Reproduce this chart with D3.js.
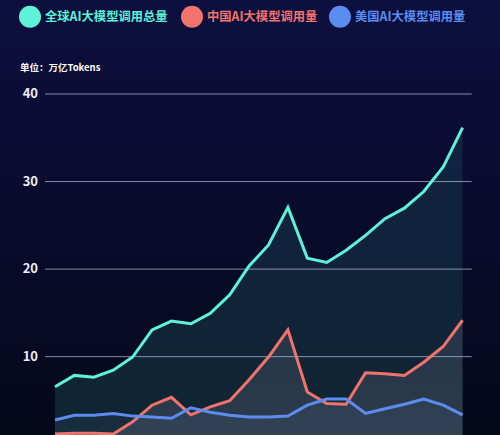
<!DOCTYPE html>
<html>
<head>
<meta charset="utf-8">
<script src="https://cdn.jsdelivr.net/npm/d3@7"></script>
<style>
  body { margin: 0; background: #070a24; }
  svg { display: block; font-family: "Noto Sans CJK SC", "Noto Sans", sans-serif; }
</style>
</head>
<body>
<div id="chart"></div>
<script>
var svgWidth = 500;
var svgHeight = 435;

// data (22 periods, unit: 万亿 Tokens)
var periods = d3.range(1, 23);
var totalUsage = [6.5, 7.8, 7.6, 8.4, 9.9, 13.0, 14.0, 13.7, 14.9, 17.0, 20.3, 22.7, 27.0, 21.2, 20.7, 22.1, 23.8, 25.7, 26.9, 28.8, 31.6, 36.1];
var chinaUsage = [1.1, 1.2, 1.2, 1.1, 2.5, 4.4, 5.3, 3.3, 4.2, 4.9, 7.3, 9.9, 13.0, 5.9, 4.6, 4.5, 8.1, 8.0, 7.8, 9.3, 11.1, 14.1];
var usUsage = [2.7, 3.25, 3.25, 3.45, 3.15, 3.05, 2.9, 4.1, 3.6, 3.25, 3.05, 3.05, 3.15, 4.4, 5.1, 5.1, 3.45, 4.0, 4.5, 5.1, 4.4, 3.3];
var seriesNames = ["全球AI大模型调用总量", "中国AI大模型调用量", "美国AI大模型调用量"];
var yTicks = [10, 20, 30, 40];

var colors = ["#5ef2d9", "#f2736b", "#5b8df0"];
var areaColors = ["#5ef2d9", "#d8c8e8", "#7f9ee8"];

var margin = { left: 45, right: 28 };

var svg = d3.select("#chart")
  .append("svg")
  .attr("width", svgWidth)
  .attr("height", svgHeight);

var defs = svg.append("defs");

// background
var bg = defs.append("linearGradient").attr("id", "bg")
  .attr("x1", 0).attr("y1", 0).attr("x2", 0).attr("y2", 1);
bg.append("stop").attr("offset", "0%").attr("stop-color", "#0d0f3e");
bg.append("stop").attr("offset", "55%").attr("stop-color", "#080b2a");
bg.append("stop").attr("offset", "100%").attr("stop-color", "#05081a");

svg.append("rect")
  .attr("width", svgWidth)
  .attr("height", svgHeight)
  .attr("fill", "url(#bg)");

// scales
var xScale = d3.scalePoint()
  .domain(periods)
  .range([55, 462.6]);

var yScale = d3.scaleLinear()
  .domain([0, 40])
  .range([443.7, 93.5]);

// legend
var legend = svg.append("g");
var legendX = [30, 192, 340];
seriesNames.forEach(function(name, i) {
  legend.append("circle")
    .attr("cx", legendX[i])
    .attr("cy", 16.8)
    .attr("r", 11)
    .attr("fill", colors[i]);
  legend.append("text")
    .attr("x", legendX[i] + 15)
    .attr("y", 21.3)
    .attr("fill", colors[i])
    .style("font-size", "12.3px")
    .style("font-weight", "bold")
    .text(name);
});

svg.append("text")
  .attr("x", 20)
  .attr("y", 71)
  .attr("fill", "#ffffff")
  .style("font-size", "9.5px")
  .style("font-weight", "bold")
  .text("单位：万亿Tokens");

// grid + y labels
var yAxis = d3.axisLeft(yScale)
  .tickValues(yTicks)
  .tickSize(-(471.7 - margin.left))
  .tickPadding(7);

var yAxisG = svg.append("g")
  .attr("transform", `translate(${margin.left}, 0)`)
  .call(yAxis);

yAxisG.select(".domain").remove();
yAxisG.selectAll(".tick line")
  .attr("stroke", "#a7a8c4")
  .attr("stroke-opacity", 0.8)
  .attr("stroke-width", 1);
yAxisG.selectAll(".tick text")
  .attr("fill", "#eeeef6")
  .style("font-size", "13px")
  .style("font-weight", "bold")
  .style("font-family", "\"Noto Sans CJK SC\", \"Noto Sans\", sans-serif");

// areas and lines
var allSeries = [totalUsage, chinaUsage, usUsage];
var areaOpacity = [0.09, 0.1, 0.05];

allSeries.forEach(function(values, i) {
  var grad = defs.append("linearGradient").attr("id", "area" + i)
    .attr("x1", 0).attr("y1", 0).attr("x2", 0).attr("y2", 1);
  grad.append("stop").attr("offset", "0%").attr("stop-color", areaColors[i]).attr("stop-opacity", areaOpacity[i]);
  grad.append("stop").attr("offset", "100%").attr("stop-color", areaColors[i]).attr("stop-opacity", areaOpacity[i] * 1.4);

  var area = d3.area()
    .x((d, j) => xScale(periods[j]))
    .y0(yScale(0))
    .y1(d => yScale(d));

  svg.append("path")
    .datum(values)
    .attr("d", area)
    .attr("fill", `url(#area${i})`);
});

allSeries.forEach(function(values, i) {
  var line = d3.line()
    .x((d, j) => xScale(periods[j]))
    .y(d => yScale(d));

  svg.append("path")
    .datum(values)
    .attr("d", line)
    .attr("fill", "none")
    .attr("stroke", colors[i])
    .attr("stroke-width", 3)
    .attr("stroke-linejoin", "miter");
});
</script>
</body>
</html>
